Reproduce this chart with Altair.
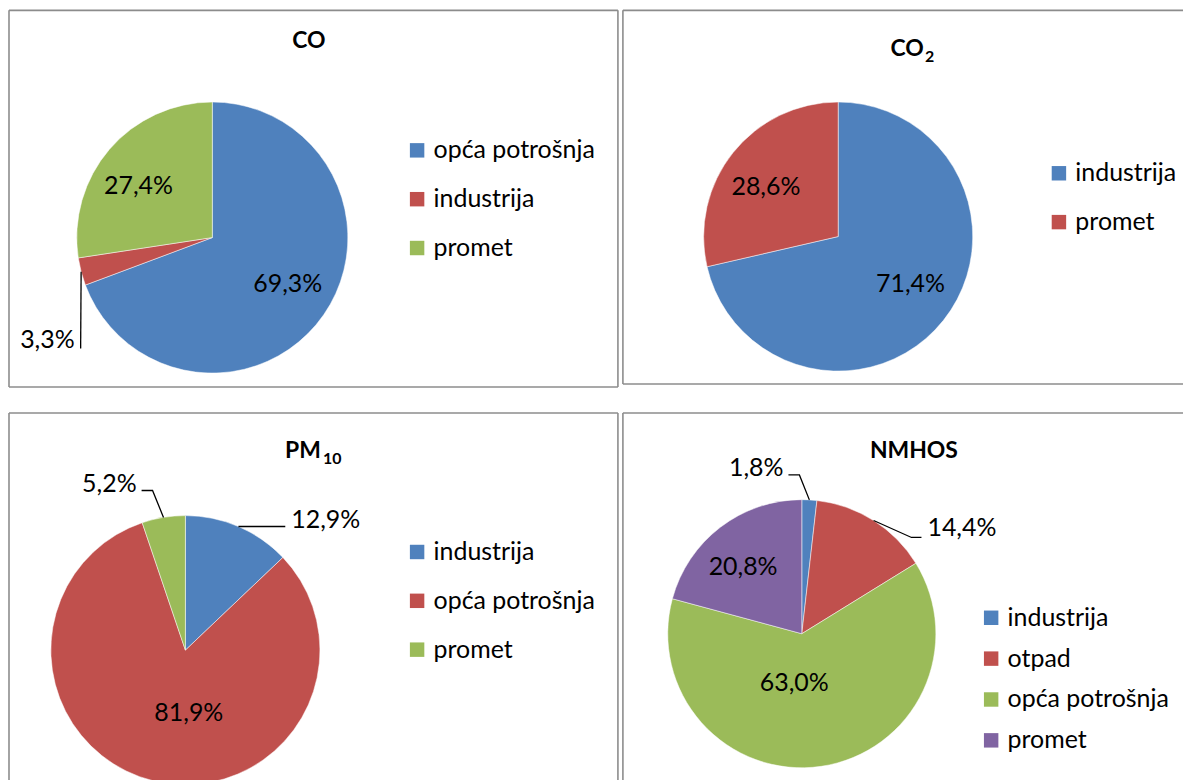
import math
import altair as alt
import pandas as pd

FONT = "Lato"
PALETTE = ["#4F81BD", "#C0504D", "#9BBB59", "#8064A2"]
BORDER = "#8c8c8c"

# ---------------- data ----------------
co_categories = ["opća potrošnja", "industrija", "promet"]
co_values = [69.3, 3.3, 27.4]

co2_categories = ["industrija", "promet"]
co2_values = [71.4, 28.6]

pm10_categories = ["industrija", "opća potrošnja", "promet"]
pm10_values = [12.9, 81.9, 5.2]

nmhos_categories = ["industrija", "otpad", "opća potrošnja", "promet"]
nmhos_values = [1.8, 14.4, 63.0, 20.8]

co_title = ["CO", ""]
co2_title = ["CO", "2"]
pm10_title = ["PM", "10"]
nmhos_title = ["NMHOS", ""]

# ---------------- layout (pixels, view coordinates) ----------------
# inside: slice index -> (label radius, angular nudge in degrees)
LAY_CO = dict(w=611, h=378, cx=204, cy=228, R=136,
              inside={0: (89, -3), 2: (90, -6)},
              outside={1: dict(path=[(0, 0), (-0.5, 77)], off=(-6, -8), align="right")},
              legend=dict(x=397, y=128, pad=23),
              title=dict(main=(301, 38, "center"), sub=None),
              borders=["top", "bottom", "left", "right"])
LAY_CO2 = dict(w=562, h=375, cx=216, cy=227, R=135,
               inside={0: (87, -5), 1: (88, -4)},
               outside={},
               legend=dict(x=425, y=151, pad=23),
               title=dict(main=(302, 46, "right"), sub=(303, 52)),
               borders=["top", "bottom", "left"])
LAY_PM = dict(w=611, h=380, cx=177, cy=238, R=135,
              inside={1: (63, -17)},
              outside={0: dict(path=[(0, 0), (47, 0)], off=(6, -7), align="left"),
                       2: dict(path=[(0, 0), (-11, -27), (-22, -27)], off=(-5, -6), align="right")},
              legend=dict(x=397, y=127, pad=23),
              title=dict(main=(313, 45, "right"), sub=(315, 51)),
              borders=["top", "left", "right"])
LAY_NM = dict(w=562, h=380, cx=179.5, cy=221.5, R=134.5,
              inside={2: (50, 17), 3: (89, -4)},
              outside={0: dict(path=[(0, 0), (-10, -25), (-21, -25)], off=(-5, -7), align="right"),
                       1: dict(path=[(0, 0), (38, 17), (48, 17)], off=(6, -9), align="left")},
              legend=dict(x=357, y=193, pad=15),
              title=dict(main=(292, 45, "center"), sub=None),
              borders=["top", "left"])


def pct(v):
    return f"{v:.1f}".replace(".", ",") + "%"


def panel(cats, vals, title_parts, lay):
    n = len(cats)
    total = sum(vals)
    cx, cy, R = lay["cx"], lay["cy"], lay["R"]
    df = pd.DataFrame({"cat": cats, "val": vals, "idx": list(range(n))})
    lg = lay["legend"]
    arcs = alt.Chart(df).mark_arc(radius=R, stroke="white", strokeWidth=0.5, clip=True).encode(
        theta=alt.Theta("val:Q", stack=True),
        color=alt.Color(
            "cat:N",
            scale=alt.Scale(domain=cats, range=PALETTE[:n]),
            legend=alt.Legend(
                title=None, orient="none", legendX=lg["x"], legendY=lg["y"],
                symbolType="square", symbolSize=210, symbolStrokeWidth=0,
                labelFont=FONT, labelFontSize=25, labelColor="black",
                labelOffset=4, labelLimit=400, rowPadding=lg["pad"], padding=0,
            ),
        ),
        order=alt.Order("idx:Q"),
        x=alt.value(cx),
        y=alt.value(cy),
    )
    layers = [arcs]

    # slice mid-angles (clockwise from 12 o'clock) from the cumulative values
    mids, cum = [], 0.0
    for v in vals:
        mids.append((cum + v / 2) / total * 2 * math.pi)
        cum += v

    # labels inside the slices
    in_rows = []
    for i, (r, nudge) in lay["inside"].items():
        a = mids[i] + math.radians(nudge)
        in_rows.append({"t": pct(vals[i]),
                        "tx": cx + r * math.sin(a),
                        "ty": cy - r * math.cos(a)})
    if in_rows:
        layers.append(
            alt.Chart(pd.DataFrame(in_rows)).mark_text(
                font=FONT, fontSize=25, color="black", align="center", baseline="middle"
            ).encode(
                x=alt.X("tx:Q", scale=None, axis=None),
                y=alt.Y("ty:Q", scale=None, axis=None),
                text="t:N",
            )
        )

    # leader lines + outside labels
    lead_rows, lab_rows = [], []
    for i, spec in lay["outside"].items():
        ex = cx + R * math.sin(mids[i])
        ey = cy - R * math.cos(mids[i])
        for k, (dx, dy) in enumerate(spec["path"]):
            lead_rows.append({"lid": i, "k": k, "px": ex + dx, "py": ey + dy})
        lx, ly = spec["path"][-1]
        ox, oy = spec["off"]
        lab_rows.append({"t": pct(vals[i]), "tx": ex + lx + ox, "ty": ey + ly + oy,
                         "al": spec["align"]})
    if lead_rows:
        layers.append(
            alt.Chart(pd.DataFrame(lead_rows)).mark_line(color="black", strokeWidth=1.3).encode(
                x=alt.X("px:Q", scale=None, axis=None),
                y=alt.Y("py:Q", scale=None, axis=None),
                detail="lid:N",
                order="k:Q",
            )
        )
        ldf = pd.DataFrame(lab_rows)
        for al in sorted(set(ldf["al"])):
            layers.append(
                alt.Chart(ldf[ldf["al"] == al]).mark_text(
                    font=FONT, fontSize=25, color="black", align=al, baseline="middle"
                ).encode(
                    x=alt.X("tx:Q", scale=None, axis=None),
                    y=alt.Y("ty:Q", scale=None, axis=None),
                    text="t:N",
                )
            )

    # title (main part + optional subscript)
    mx, my, mal = lay["title"]["main"]
    layers.append(
        alt.Chart(pd.DataFrame({"t": [title_parts[0]]})).mark_text(
            font=FONT, fontSize=23, fontWeight="bold", color="black",
            align=mal, baseline="alphabetic"
        ).encode(text="t:N", x=alt.value(mx), y=alt.value(my))
    )
    if title_parts[1]:
        sx, sy = lay["title"]["sub"]
        layers.append(
            alt.Chart(pd.DataFrame({"t": [title_parts[1]]})).mark_text(
                font=FONT, fontSize=16, fontWeight="bold", color="black",
                align="left", baseline="alphabetic"
            ).encode(text="t:N", x=alt.value(sx), y=alt.value(sy))
        )

    # panel frame
    w, h = lay["w"], lay["h"]
    sides = {
        "top": (0, w, 0, 0),
        "bottom": (0, w, h, h),
        "left": (0, 0, 0, h),
        "right": (w, w, 0, h),
    }
    for s in lay["borders"]:
        x1, x2, y1, y2 = sides[s]
        layers.append(
            alt.Chart(pd.DataFrame({"s": [s]})).mark_rule(color=BORDER, strokeWidth=1.6).encode(
                x=alt.value(x1), x2=alt.value(x2), y=alt.value(y1), y2=alt.value(y2)
            )
        )

    return alt.layer(*layers).properties(width=w, height=h)


p_co = panel(co_categories, co_values, co_title, LAY_CO)
p_co2 = panel(co2_categories, co2_values, co2_title, LAY_CO2)
p_pm = panel(pm10_categories, pm10_values, pm10_title, LAY_PM)
p_nm = panel(nmhos_categories, nmhos_values, nmhos_title, LAY_NM)

top = alt.hconcat(p_co, p_co2, spacing=3).resolve_scale(color="independent", theta="independent").resolve_legend(color="independent")
bottom = alt.hconcat(p_pm, p_nm, spacing=3).resolve_scale(color="independent", theta="independent").resolve_legend(color="independent")

chart = (
    alt.vconcat(top, bottom, spacing=24)
    .resolve_scale(color="independent", theta="independent")
    .resolve_legend(color="independent")
    .properties(padding={"left": 0, "top": 0, "right": 0, "bottom": 0}, background="white")
    .configure_view(stroke=None)
)

chart.save("out.html", embed_options={"renderer": "svg", "actions": False})
